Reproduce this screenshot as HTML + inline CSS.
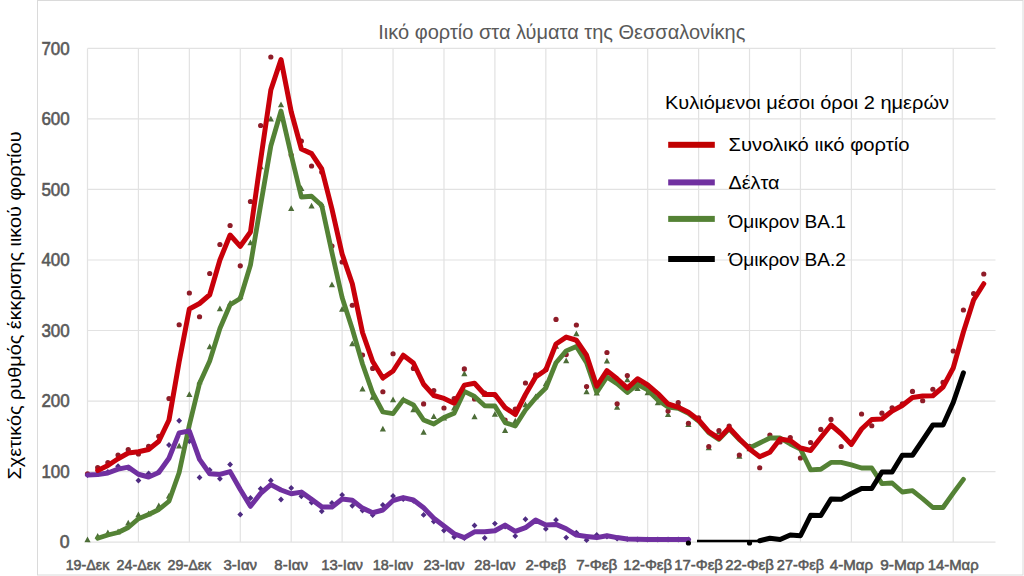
<!DOCTYPE html>
<html><head><meta charset="utf-8"><style>
html,body{margin:0;padding:0;background:#fff;width:1024px;height:576px;overflow:hidden}
svg{display:block}
text{font-family:"Liberation Sans",sans-serif}
.yl{font-size:17.7px;font-weight:normal;fill:#595959;stroke:#595959;stroke-width:0.6px;text-anchor:end}
.xl{font-size:14.9px;font-weight:normal;fill:#595959;stroke:#595959;stroke-width:0.55px;text-anchor:middle}
.lg{font-size:17.7px;fill:#000}
.tt{font-size:20.5px;fill:#595959;text-anchor:middle}
.yt{font-size:19px;fill:#000;text-anchor:middle}
</style></head><body>
<svg width="1024" height="576" viewBox="0 0 1024 576">
<rect x="37.5" y="0.5" width="985.5" height="574.5" fill="#fff" stroke="#dadada" stroke-width="1"/>
<path d="M87.5 48.4V542.1 M138.43 48.4V542.1 M189.35 48.4V542.1 M240.28 48.4V542.1 M291.2 48.4V542.1 M342.12 48.4V542.1 M393.05 48.4V542.1 M443.98 48.4V542.1 M494.9 48.4V542.1 M545.83 48.4V542.1 M596.75 48.4V542.1 M647.68 48.4V542.1 M698.6 48.4V542.1 M749.52 48.4V542.1 M800.45 48.4V542.1 M851.38 48.4V542.1 M902.3 48.4V542.1 M953.23 48.4V542.1 M87.5 542.1H995.5 M87.5 471.57H995.5 M87.5 401.04H995.5 M87.5 330.51H995.5 M87.5 259.98H995.5 M87.5 189.45H995.5 M87.5 118.92H995.5 M87.5 48.39H995.5" stroke="#e2e2e2" stroke-width="1.2" fill="none"/>
<text x="69.7" y="548.4" class="yl">0</text>
<text x="69.7" y="477.87" class="yl" textLength="28.3" lengthAdjust="spacingAndGlyphs">100</text>
<text x="69.7" y="407.34" class="yl" textLength="28.3" lengthAdjust="spacingAndGlyphs">200</text>
<text x="69.7" y="336.81" class="yl" textLength="28.3" lengthAdjust="spacingAndGlyphs">300</text>
<text x="69.7" y="266.28" class="yl" textLength="28.3" lengthAdjust="spacingAndGlyphs">400</text>
<text x="69.7" y="195.75" class="yl" textLength="28.3" lengthAdjust="spacingAndGlyphs">500</text>
<text x="69.7" y="125.22" class="yl" textLength="28.3" lengthAdjust="spacingAndGlyphs">600</text>
<text x="69.7" y="54.69" class="yl" textLength="28.3" lengthAdjust="spacingAndGlyphs">700</text>
<text x="87.5" y="569.5" class="xl" textLength="43.7" lengthAdjust="spacingAndGlyphs">19-Δεκ</text>
<text x="138.43" y="569.5" class="xl" textLength="43.7" lengthAdjust="spacingAndGlyphs">24-Δεκ</text>
<text x="189.35" y="569.5" class="xl" textLength="43.7" lengthAdjust="spacingAndGlyphs">29-Δεκ</text>
<text x="240.28" y="569.5" class="xl" textLength="33.7" lengthAdjust="spacingAndGlyphs">3-Ιαν</text>
<text x="291.2" y="569.5" class="xl" textLength="33.7" lengthAdjust="spacingAndGlyphs">8-Ιαν</text>
<text x="342.12" y="569.5" class="xl" textLength="41.7" lengthAdjust="spacingAndGlyphs">13-Ιαν</text>
<text x="393.05" y="569.5" class="xl" textLength="40.45" lengthAdjust="spacingAndGlyphs">18-Ιαν</text>
<text x="443.98" y="569.5" class="xl" textLength="41.2" lengthAdjust="spacingAndGlyphs">23-Ιαν</text>
<text x="494.9" y="569.5" class="xl" textLength="41.2" lengthAdjust="spacingAndGlyphs">28-Ιαν</text>
<text x="545.83" y="569.5" class="xl" textLength="40.7" lengthAdjust="spacingAndGlyphs">2-Φεβ</text>
<text x="596.75" y="569.5" class="xl" textLength="41.2" lengthAdjust="spacingAndGlyphs">7-Φεβ</text>
<text x="647.68" y="569.5" class="xl" textLength="48.7" lengthAdjust="spacingAndGlyphs">12-Φεβ</text>
<text x="698.6" y="569.5" class="xl" textLength="48.7" lengthAdjust="spacingAndGlyphs">17-Φεβ</text>
<text x="749.52" y="569.5" class="xl" textLength="48.7" lengthAdjust="spacingAndGlyphs">22-Φεβ</text>
<text x="800.45" y="569.5" class="xl" textLength="47.2" lengthAdjust="spacingAndGlyphs">27-Φεβ</text>
<text x="851.38" y="569.5" class="xl" textLength="43.2" lengthAdjust="spacingAndGlyphs">4-Μαρ</text>
<text x="902.3" y="569.5" class="xl" textLength="44.2" lengthAdjust="spacingAndGlyphs">9-Μαρ</text>
<text x="953.23" y="569.5" class="xl" textLength="50.9" lengthAdjust="spacingAndGlyphs">14-Μαρ</text>
<path d="M87.5 472.1l2.9 2.9l-2.9 2.9l-2.9 -2.9z M97.69 471.1l2.9 2.9l-2.9 2.9l-2.9 -2.9z M107.87 469.1l2.9 2.9l-2.9 2.9l-2.9 -2.9z M118.06 463.35l2.9 2.9l-2.9 2.9l-2.9 -2.9z M128.24 465.1l2.9 2.9l-2.9 2.9l-2.9 -2.9z M138.43 477.6l2.9 2.9l-2.9 2.9l-2.9 -2.9z M148.61 470.6l2.9 2.9l-2.9 2.9l-2.9 -2.9z M158.8 468.6l2.9 2.9l-2.9 2.9l-2.9 -2.9z M168.98 442.1l2.9 2.9l-2.9 2.9l-2.9 -2.9z M179.17 417.85l2.9 2.9l-2.9 2.9l-2.9 -2.9z M189.35 438.35l2.9 2.9l-2.9 2.9l-2.9 -2.9z M199.54 474.6l2.9 2.9l-2.9 2.9l-2.9 -2.9z M209.72 467.1l2.9 2.9l-2.9 2.9l-2.9 -2.9z M219.91 475.85l2.9 2.9l-2.9 2.9l-2.9 -2.9z M230.09 461.6l2.9 2.9l-2.9 2.9l-2.9 -2.9z M240.28 511.6l2.9 2.9l-2.9 2.9l-2.9 -2.9z M250.46 495.1l2.9 2.9l-2.9 2.9l-2.9 -2.9z M260.64 485.85l2.9 2.9l-2.9 2.9l-2.9 -2.9z M270.83 477.6l2.9 2.9l-2.9 2.9l-2.9 -2.9z M281.01 496.6l2.9 2.9l-2.9 2.9l-2.9 -2.9z M291.2 485.1l2.9 2.9l-2.9 2.9l-2.9 -2.9z M301.38 493.35l2.9 2.9l-2.9 2.9l-2.9 -2.9z M311.57 499.6l2.9 2.9l-2.9 2.9l-2.9 -2.9z M321.75 508.35l2.9 2.9l-2.9 2.9l-2.9 -2.9z M331.94 500.1l2.9 2.9l-2.9 2.9l-2.9 -2.9z M342.12 492l2.9 2.9l-2.9 2.9l-2.9 -2.9z M352.31 502.85l2.9 2.9l-2.9 2.9l-2.9 -2.9z M362.5 507.6l2.9 2.9l-2.9 2.9l-2.9 -2.9z M372.68 512.1l2.9 2.9l-2.9 2.9l-2.9 -2.9z M382.87 502.1l2.9 2.9l-2.9 2.9l-2.9 -2.9z M393.05 493.1l2.9 2.9l-2.9 2.9l-2.9 -2.9z M403.24 496.3l2.9 2.9l-2.9 2.9l-2.9 -2.9z M413.42 497.9l2.9 2.9l-2.9 2.9l-2.9 -2.9z M423.61 512l2.9 2.9l-2.9 2.9l-2.9 -2.9z M433.79 518.7l2.9 2.9l-2.9 2.9l-2.9 -2.9z M443.98 527.6l2.9 2.9l-2.9 2.9l-2.9 -2.9z M454.16 534.1l2.9 2.9l-2.9 2.9l-2.9 -2.9z M464.35 535.3l2.9 2.9l-2.9 2.9l-2.9 -2.9z M474.53 522.6l2.9 2.9l-2.9 2.9l-2.9 -2.9z M484.72 535.1l2.9 2.9l-2.9 2.9l-2.9 -2.9z M494.9 520.7l2.9 2.9l-2.9 2.9l-2.9 -2.9z M505.09 523.7l2.9 2.9l-2.9 2.9l-2.9 -2.9z M515.27 533.2l2.9 2.9l-2.9 2.9l-2.9 -2.9z M525.46 516.35l2.9 2.9l-2.9 2.9l-2.9 -2.9z M535.64 518.1l2.9 2.9l-2.9 2.9l-2.9 -2.9z M545.83 526l2.9 2.9l-2.9 2.9l-2.9 -2.9z M556.01 517l2.9 2.9l-2.9 2.9l-2.9 -2.9z M566.2 534.7l2.9 2.9l-2.9 2.9l-2.9 -2.9z M576.38 529.7l2.9 2.9l-2.9 2.9l-2.9 -2.9z M586.57 537.3l2.9 2.9l-2.9 2.9l-2.9 -2.9z M596.75 532.1l2.9 2.9l-2.9 2.9l-2.9 -2.9z M606.94 533.6l2.9 2.9l-2.9 2.9l-2.9 -2.9z M617.12 535.8l2.9 2.9l-2.9 2.9l-2.9 -2.9z M627.31 536.2l2.9 2.9l-2.9 2.9l-2.9 -2.9z M637.49 536.6l2.9 2.9l-2.9 2.9l-2.9 -2.9z M647.68 536.6l2.9 2.9l-2.9 2.9l-2.9 -2.9z M657.86 536.6l2.9 2.9l-2.9 2.9l-2.9 -2.9z M668.05 536.6l2.9 2.9l-2.9 2.9l-2.9 -2.9z M678.23 536.6l2.9 2.9l-2.9 2.9l-2.9 -2.9z M688.42 536.6l2.9 2.9l-2.9 2.9l-2.9 -2.9z" fill="#4f2c82"/>
<path d="M87.5 536.5l3.1 5.8h-6.2z M97.69 533l3.1 5.8h-6.2z M107.87 529.5l3.1 5.8h-6.2z M118.06 528.5l3.1 5.8h-6.2z M128.24 519.75l3.1 5.8h-6.2z M138.43 511.5l3.1 5.8h-6.2z M148.61 510.5l3.1 5.8h-6.2z M158.8 502.5l3.1 5.8h-6.2z M168.98 492.75l3.1 5.8h-6.2z M179.17 442.75l3.1 5.8h-6.2z M189.35 391.25l3.1 5.8h-6.2z M199.54 378.5l3.1 5.8h-6.2z M209.72 343.5l3.1 5.8h-6.2z M219.91 305.5l3.1 5.8h-6.2z M230.09 300l3.1 5.8h-6.2z M240.28 293l3.1 5.8h-6.2z M250.46 239.5l3.1 5.8h-6.2z M260.64 163.5l3.1 5.8h-6.2z M270.83 115.75l3.1 5.8h-6.2z M281.01 101.5l3.1 5.8h-6.2z M291.2 205.25l3.1 5.8h-6.2z M301.38 185.25l3.1 5.8h-6.2z M311.57 202.75l3.1 5.8h-6.2z M321.75 201.5l3.1 5.8h-6.2z M331.94 281.5l3.1 5.8h-6.2z M342.12 306l3.1 5.8h-6.2z M352.31 340.5l3.1 5.8h-6.2z M362.5 385.75l3.1 5.8h-6.2z M372.68 393.9l3.1 5.8h-6.2z M382.87 425.75l3.1 5.8h-6.2z M393.05 396.5l3.1 5.8h-6.2z M403.24 396.3l3.1 5.8h-6.2z M413.42 406.4l3.1 5.8h-6.2z M423.61 428.9l3.1 5.8h-6.2z M433.79 413.25l3.1 5.8h-6.2z M443.98 414.75l3.1 5.8h-6.2z M454.16 404.75l3.1 5.8h-6.2z M464.35 370.4l3.1 5.8h-6.2z M474.53 413.5l3.1 5.8h-6.2z M484.72 391l3.1 5.8h-6.2z M494.9 411l3.1 5.8h-6.2z M505.09 427.2l3.1 5.8h-6.2z M515.27 417.8l3.1 5.8h-6.2z M525.46 401.5l3.1 5.8h-6.2z M535.64 393.5l3.1 5.8h-6.2z M545.83 380.5l3.1 5.8h-6.2z M556.01 343l3.1 5.8h-6.2z M566.2 357.4l3.1 5.8h-6.2z M576.38 330.5l3.1 5.8h-6.2z M586.57 388.4l3.1 5.8h-6.2z M596.75 389.6l3.1 5.8h-6.2z M606.94 357.75l3.1 5.8h-6.2z M617.12 404l3.1 5.8h-6.2z M627.31 376.5l3.1 5.8h-6.2z M637.49 385.3l3.1 5.8h-6.2z M647.68 389.5l3.1 5.8h-6.2z M657.86 399.5l3.1 5.8h-6.2z M668.05 411.25l3.1 5.8h-6.2z M678.23 400.5l3.1 5.8h-6.2z M688.42 421.25l3.1 5.8h-6.2z M698.6 415.9l3.1 5.8h-6.2z M708.79 444.5l3.1 5.8h-6.2z M718.97 428.6l3.1 5.8h-6.2z M729.16 424l3.1 5.8h-6.2z M739.34 453l3.1 5.8h-6.2z M749.52 445.5l3.1 5.8h-6.2z" fill="#4d6d38"/>
<g fill="#8f1c28"><circle cx="87.5" cy="473.75" r="2.6"/><circle cx="97.69" cy="467.5" r="2.6"/><circle cx="107.87" cy="462.5" r="2.6"/><circle cx="118.06" cy="455" r="2.6"/><circle cx="128.24" cy="449.5" r="2.6"/><circle cx="138.43" cy="454" r="2.6"/><circle cx="148.61" cy="446.25" r="2.6"/><circle cx="158.8" cy="436.25" r="2.6"/><circle cx="168.98" cy="398.5" r="2.6"/><circle cx="179.17" cy="324.75" r="2.6"/><circle cx="189.35" cy="293" r="2.6"/><circle cx="199.54" cy="316.75" r="2.6"/><circle cx="209.72" cy="273.5" r="2.6"/><circle cx="219.91" cy="244.5" r="2.6"/><circle cx="230.09" cy="225.5" r="2.6"/><circle cx="240.28" cy="265.8" r="2.6"/><circle cx="250.46" cy="201.5" r="2.6"/><circle cx="260.64" cy="125.5" r="2.6"/><circle cx="270.83" cy="57" r="2.6"/><circle cx="281.01" cy="62" r="2.6"/><circle cx="291.2" cy="155" r="2.6"/><circle cx="301.38" cy="141" r="2.6"/><circle cx="311.57" cy="166" r="2.6"/><circle cx="321.75" cy="172" r="2.6"/><circle cx="331.94" cy="246" r="2.6"/><circle cx="342.12" cy="262" r="2.6"/><circle cx="352.31" cy="305.25" r="2.6"/><circle cx="362.5" cy="355" r="2.6"/><circle cx="372.68" cy="368.4" r="2.6"/><circle cx="382.87" cy="391.75" r="2.6"/><circle cx="393.05" cy="353.75" r="2.6"/><circle cx="403.24" cy="356.75" r="2.6"/><circle cx="413.42" cy="368.4" r="2.6"/><circle cx="423.61" cy="403.9" r="2.6"/><circle cx="433.79" cy="390.5" r="2.6"/><circle cx="443.98" cy="408" r="2.6"/><circle cx="454.16" cy="398.5" r="2.6"/><circle cx="464.35" cy="368.9" r="2.6"/><circle cx="474.53" cy="398.9" r="2.6"/><circle cx="484.72" cy="393" r="2.6"/><circle cx="494.9" cy="395" r="2.6"/><circle cx="505.09" cy="420" r="2.6"/><circle cx="515.27" cy="409" r="2.6"/><circle cx="525.46" cy="383" r="2.6"/><circle cx="535.64" cy="374.9" r="2.6"/><circle cx="545.83" cy="369.5" r="2.6"/><circle cx="556.01" cy="319.4" r="2.6"/><circle cx="566.2" cy="354.6" r="2.6"/><circle cx="576.38" cy="325" r="2.6"/><circle cx="586.57" cy="386.5" r="2.6"/><circle cx="596.75" cy="386" r="2.6"/><circle cx="606.94" cy="352.5" r="2.6"/><circle cx="617.12" cy="403.75" r="2.6"/><circle cx="627.31" cy="375.6" r="2.6"/><circle cx="637.49" cy="382" r="2.6"/><circle cx="647.68" cy="388" r="2.6"/><circle cx="657.86" cy="399" r="2.6"/><circle cx="668.05" cy="411" r="2.6"/><circle cx="678.23" cy="402.5" r="2.6"/><circle cx="688.42" cy="423.25" r="2.6"/><circle cx="698.6" cy="417.9" r="2.6"/><circle cx="708.79" cy="446.5" r="2.6"/><circle cx="718.97" cy="430.6" r="2.6"/><circle cx="729.16" cy="426" r="2.6"/><circle cx="739.34" cy="455" r="2.6"/><circle cx="749.52" cy="446.25" r="2.6"/><circle cx="759.71" cy="467.75" r="2.6"/><circle cx="769.89" cy="435" r="2.6"/><circle cx="780.08" cy="442" r="2.6"/><circle cx="790.26" cy="437.5" r="2.6"/><circle cx="800.45" cy="458" r="2.6"/><circle cx="810.63" cy="442.5" r="2.6"/><circle cx="820.82" cy="429.4" r="2.6"/><circle cx="831" cy="419.4" r="2.6"/><circle cx="841.19" cy="446.5" r="2.6"/><circle cx="851.38" cy="442.3" r="2.6"/><circle cx="861.56" cy="414" r="2.6"/><circle cx="871.75" cy="425.75" r="2.6"/><circle cx="881.93" cy="413.2" r="2.6"/><circle cx="892.12" cy="407.75" r="2.6"/><circle cx="902.3" cy="403.75" r="2.6"/><circle cx="912.49" cy="391.4" r="2.6"/><circle cx="922.67" cy="400.75" r="2.6"/><circle cx="932.86" cy="389.25" r="2.6"/><circle cx="943.04" cy="382.4" r="2.6"/><circle cx="953.23" cy="351" r="2.6"/><circle cx="963.41" cy="310" r="2.6"/><circle cx="973.6" cy="293.5" r="2.6"/><circle cx="983.78" cy="274" r="2.6"/></g>
<polyline points="97.69,538.25 107.87,535 118.06,532.5 128.24,527.5 138.43,518.75 148.61,514.5 158.8,509.5 168.98,501.25 179.17,472.5 189.35,425 199.54,383.5 209.72,361 219.91,328.5 230.09,304.75 240.28,298.5 250.46,265 260.64,205 270.83,146 281.01,111 291.2,155 301.38,197 311.57,196.25 321.75,205.6 331.94,252.5 342.12,297.5 352.31,329 362.5,364 372.68,393 382.87,412 393.05,413.6 403.24,399.9 413.42,404.9 423.61,420 433.79,424 443.98,417.5 454.16,413.25 464.35,391.4 474.53,396.4 484.72,405.75 494.9,406 505.09,422.6 515.27,426 525.46,410 535.64,398 545.83,388 556.01,362.75 566.2,350.9 576.38,346.5 586.57,362.75 596.75,392.5 606.94,376.9 617.12,383.75 627.31,392.5 637.49,384.4 647.68,390 657.86,400 668.05,407 678.23,408.25 688.42,413.25 698.6,421 708.79,432.7 718.97,439.4 729.16,428.75 739.34,439.7 749.52,448 759.71,443 769.89,438 780.08,438 790.26,444 800.45,449 810.63,469.9 820.82,469.25 831,462.4 841.19,462.4 851.38,464.9 861.56,468 871.75,468 881.93,483.6 892.12,483 902.3,492 912.49,490.6 922.67,498.75 932.86,507.5 943.04,507.5 953.23,493.1 963.41,479.4" stroke="#548235" stroke-width="4.8" fill="none" stroke-linejoin="round" stroke-linecap="round"/>
<polyline points="87.5,475 97.69,474.5 107.87,473 118.06,469.12 128.24,467.12 138.43,474.25 148.61,477 158.8,472.5 168.98,458.25 179.17,432.88 189.35,431 199.54,459.38 209.72,473.75 219.91,474.38 230.09,471.62 240.28,489.5 250.46,506.25 260.64,493.38 270.83,484.62 281.01,490 291.2,493.75 301.38,492.12 311.57,499.38 321.75,506.88 331.94,507.12 342.12,498.95 352.31,500.32 362.5,508.12 372.68,512.75 382.87,510 393.05,500.5 403.24,497.6 413.42,500 423.61,507.85 433.79,518.25 443.98,526.05 454.16,533.75 464.35,537.6 474.53,531.85 484.72,531.75 494.9,530.8 505.09,525.1 515.27,531.35 525.46,527.67 535.64,520.12 545.83,524.95 556.01,524.4 566.2,528.75 576.38,535.1 586.57,536.4 596.75,537.6 606.94,535.75 617.12,537.6 627.31,538.9 637.49,539.3 647.68,539.5 657.86,539.5 668.05,539.5 678.23,539.5 688.42,539.5" stroke="#7030a0" stroke-width="5" fill="none" stroke-linejoin="round" stroke-linecap="round"/>
<polyline points="97.69,470.5 107.87,465.5 118.06,458.75 128.24,453 138.43,451.75 148.61,449.5 158.8,441.25 168.98,420 179.17,361.6 189.35,309 199.54,303.5 209.72,294.75 219.91,260 230.09,235 240.28,246.3 250.46,232 260.64,160 270.83,90 281.01,59.5 291.2,111.75 301.38,149 311.57,153.6 321.75,169 331.94,209 342.12,254 352.31,283.75 362.5,332.5 372.68,361.5 382.87,378 393.05,371 403.24,355.25 413.42,363 423.61,384.25 433.79,395.5 443.98,398.4 454.16,403.25 464.35,385.1 474.53,383.25 484.72,394.5 494.9,394.5 505.09,407.6 515.27,414.5 525.46,394.5 535.64,377 545.83,370 556.01,344 566.2,337.1 576.38,340.25 586.57,355.25 596.75,386.25 606.94,370.6 617.12,378.75 627.31,388.1 637.49,378.75 647.68,385 657.86,393.6 668.05,404 678.23,407.25 688.42,412.25 698.6,420 708.79,431.7 718.97,438.4 729.16,427.75 739.34,438.7 749.52,449 759.71,456.7 769.89,452.3 780.08,439 790.26,440.6 800.45,448 810.63,450.5 820.82,437.5 831,425 841.19,433.75 851.38,444.4 861.56,429 871.75,419.5 881.93,419 892.12,411 902.3,405.5 912.49,397.5 922.67,396 932.86,395.75 943.04,387 953.23,368 963.41,332 973.6,300 983.78,283.75" stroke="#c8000a" stroke-width="5" fill="none" stroke-linejoin="round" stroke-linecap="round"/>
<path d="M697 541H759.71" stroke="#000" stroke-width="2.4"/>
<circle cx="688.42" cy="543" r="2.6" fill="#000"/><circle cx="749.52" cy="543" r="2.6" fill="#000"/>
<polyline points="759.71,540.75 769.89,538.25 780.08,539.5 790.26,535 800.45,535.75 810.63,515.3 820.82,515.5 831,499 841.19,499.3 851.38,493.5 861.56,488.5 871.75,488.5 881.93,472 892.12,472 902.3,455.25 912.49,455.25 922.67,440.25 932.86,425 943.04,425 953.23,402.5 963.41,372.75" stroke="#000" stroke-width="5" fill="none" stroke-linejoin="round" stroke-linecap="round"/>
<text x="665" y="108.75" class="lg" textLength="284" lengthAdjust="spacingAndGlyphs">Κυλιόμενοι μέσοι όροι 2 ημερών</text>
<rect x="668.2" y="141.8" width="46.6" height="6" fill="#c00000"/>
<text x="728.5" y="150.9" class="lg" textLength="181" lengthAdjust="spacingAndGlyphs">Συνολικό ιικό φορτίο</text>
<rect x="668.2" y="179.4" width="46.6" height="6" fill="#7030a0"/>
<text x="728.5" y="189" class="lg" textLength="51" lengthAdjust="spacingAndGlyphs">Δέλτα</text>
<rect x="668.2" y="215.9" width="46.6" height="6" fill="#548235"/>
<text x="728.5" y="227.9" class="lg" textLength="117.5" lengthAdjust="spacingAndGlyphs">Όμικρον BA.1</text>
<rect x="668.2" y="256" width="46.6" height="6" fill="#000"/>
<text x="728.5" y="266.2" class="lg" textLength="117.5" lengthAdjust="spacingAndGlyphs">Όμικρον BA.2</text>
<text x="561.8" y="39.3" class="tt" textLength="367" lengthAdjust="spacingAndGlyphs">Ιικό φορτίο στα λύματα της Θεσσαλονίκης</text>
<text transform="translate(20.7 305.5) rotate(-90)" class="yt" textLength="348" lengthAdjust="spacingAndGlyphs">Σχετικός ρυθμός έκκρισης ιικού φορτίου</text>
</svg></body></html>
